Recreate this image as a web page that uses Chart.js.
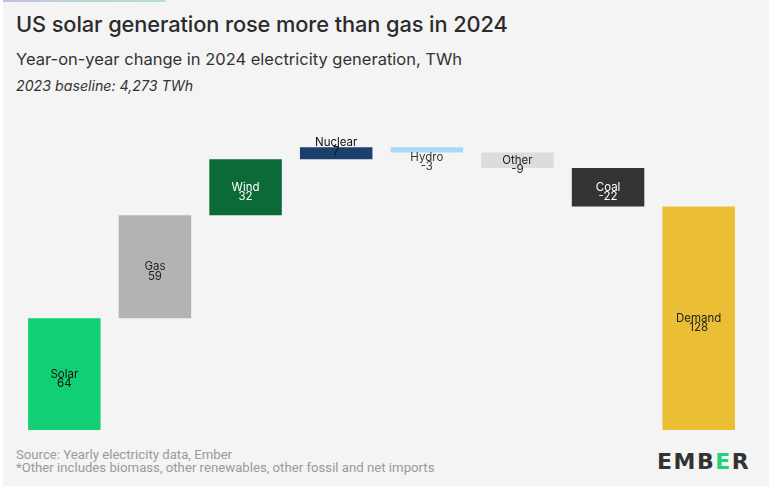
<!DOCTYPE html>
<html>
<head>
<meta charset="utf-8">
<script src="https://cdn.jsdelivr.net/npm/chart.js@4/dist/chart.umd.min.js"></script>
<style>
  html, body { margin: 0; padding: 0; background: #fff; }
  body { width: 769px; height: 500px; position: relative; overflow: hidden; font-family: Inter, "Noto Sans", sans-serif; }
  .painel { position: absolute; left: 3px; top: 0; width: 766px; height: 486px; background: #f4f4f4; }
  .faixa { position: absolute; left: 3px; top: 0; width: 163px; height: 2px; background: linear-gradient(90deg, #c3c3e0, #b2e3cb); }
  .titulo { position: absolute; left: 16px; top: 11px; font-size: 21.8px; font-weight: 500; color: #2b2b2b; letter-spacing: -0.1px; }
  .subtitulo { position: absolute; left: 16px; top: 49px; font-size: 16.5px; color: #333; }
  .base { position: absolute; left: 16px; top: 77px; font-size: 14.2px; font-style: italic; color: #333; }
  .fonte { position: absolute; left: 16px; top: 449px; font-size: 13.2px; line-height: 12.5px; color: #9a9a9a; font-family: Roboto, sans-serif; font-weight: 400; }
  .logo { position: absolute; left: 657px; top: 449px; font-size: 22px; font-weight: 800; color: #333; letter-spacing: 1.5px; font-family: "DejaVu Sans", sans-serif; }
  .logo span { color: #1ed37c; }
  .grafico { position: absolute; left: 0; top: 100px; width: 769px; height: 340px; }
</style>
</head>
<body>
<div class="painel"></div>
<div class="faixa"></div>
<div class="titulo">US solar generation rose more than gas in 2024</div>
<div class="subtitulo">Year-on-year change in 2024 electricity generation, TWh</div>
<div class="base">2023 baseline: 4,273 TWh</div>
<div class="grafico"><canvas id="graficoCascata"></canvas></div>
<div class="fonte">Source: Yearly electricity data, Ember<br>*Other includes biomass, other renewables, other fossil and net imports</div>
<div class="logo">EMB<span>E</span>R</div>

<script>
// Dados (TWh)
const categorias = ['Solar', 'Gas', 'Wind', 'Nuclear', 'Hydro', 'Other', 'Coal', 'Demand'];
const variacoes = [64, 59, 32, 7, -3, -9, -22];
const demanda = 128;

// Estilo das barras
const coresBarras = ['#12cf74', '#b3b3b3', '#0b6a38', '#1d3f6d', '#a7d9f2', '#dcdcdc', '#333333', '#ebbf35'];
const coresTexto = ['#111', '#222', '#fff', '#111', '#333', '#222', '#fff', '#222'];

// Monta as barras flutuantes (cascata)
const barras = [];
let acumulado = 0;
variacoes.forEach(v => {
    barras.push([acumulado, acumulado + v]);
    acumulado += v;
});
barras.push([0, demanda]);
const rotulosValor = [...variacoes, demanda].map(v => String(v));

// Plugin para escrever nome + valor em cada barra
const rotulosBarras = {
    id: 'rotulosBarras',
    afterDatasetsDraw(chart) {
        const { ctx } = chart;
        const meta = chart.getDatasetMeta(0);
        ctx.save();
        ctx.font = '11.5px Inter, "Noto Sans", sans-serif';
        ctx.textAlign = 'center';
        ctx.textBaseline = 'middle';
        meta.data.forEach((barra, i) => {
            const topo = Math.min(barra.y, barra.base);
            const fundo = Math.max(barra.y, barra.base);
            const altura = fundo - topo;
            const centro = (topo + fundo) / 2;
            let y1 = centro;
            const negativo = i < variacoes.length && variacoes[i] < 0;
            if (altura < 14) {
                y1 = negativo ? fundo + 5 : centro - 11;
            }
            ctx.fillStyle = coresTexto[i];
            ctx.fillText(categorias[i], barra.x, y1);
            ctx.fillText(rotulosValor[i], barra.x, y1 + 9.5);
        });
        ctx.restore();
    }
};

new Chart(document.getElementById('graficoCascata').getContext('2d'), {
    type: 'bar',
    data: {
        labels: categorias,
        datasets: [{
            data: barras,
            backgroundColor: coresBarras,
            borderWidth: 0,
            barPercentage: 0.8,
            categoryPercentage: 1.0
        }]
    },
    options: {
        responsive: true,
        maintainAspectRatio: false,
        animation: false,
        layout: { padding: { left: 19, right: 25, top: 0, bottom: 10 } },
        plugins: {
            legend: { display: false },
            tooltip: { enabled: false }
        },
        scales: {
            x: { display: false },
            y: { display: false, min: 0, max: 189 }
        }
    },
    plugins: [rotulosBarras]
});
</script>
</body>
</html>
